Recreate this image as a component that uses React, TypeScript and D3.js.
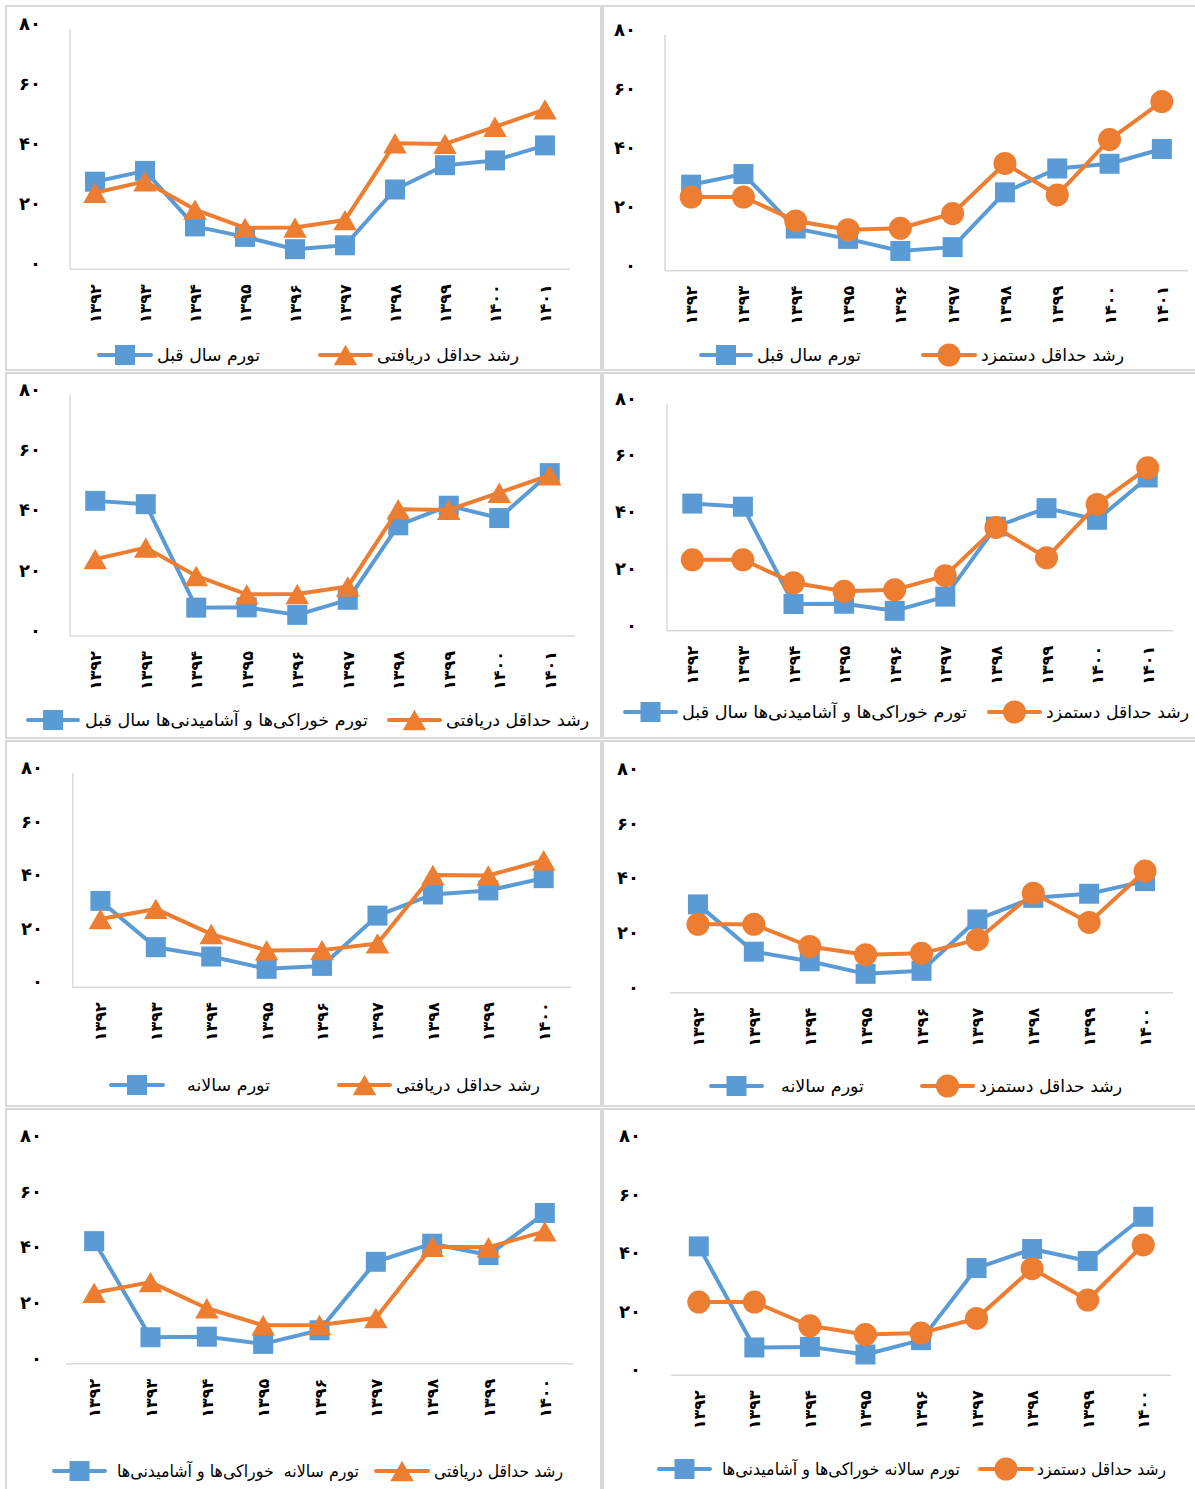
import * as d3 from "d3";

// categories (Persian years) and axis ticks
const years = ["۱۳۹۲", "۱۳۹۳", "۱۳۹۴", "۱۳۹۵", "۱۳۹۶", "۱۳۹۷", "۱۳۹۸", "۱۳۹۹", "۱۴۰۰", "۱۴۰۱"];
const yTicks = [0, 20, 40, 60, 80];
const yTickLabels = ["۰", "۲۰", "۴۰", "۶۰", "۸۰"];

// series values (percent)
const inflationPrevYear = [29.2, 32.8, 14.3, 10.8, 6.7, 8.0, 26.6, 34.7, 36.3, 41.3];
const inflationAnnual = [32.3, 15.0, 11.5, 6.9, 8.0, 26.8, 34.7, 36.2, 40.8];
const foodInflationPrevYear = [44.8, 43.7, 9.4, 9.5, 7.0, 12.0, 36.7, 43.2, 39.1, 54.0];
const foodInflationAnnual = [44.0, 9.5, 9.7, 7.1, 12.0, 36.6, 43.1, 39.0, 54.1];
const totalWageGrowth = [25.5, 29.3, 19.9, 13.8, 13.9, 16.4, 42.0, 41.8, 47.5, 53.3];
const minWageGrowth = [25.0, 25.0, 16.9, 13.9, 14.4, 19.4, 36.4, 25.7, 44.5, 57.4];

// legend names
const nameInflationPrev = "تورم سال قبل";
const nameInflationAnnual = "تورم سالانه";
const nameFoodPrev = "تورم خوراکی‌ها و آشامیدنی‌ها سال قبل";
const nameFoodAnnualA = "تورم سالانه  خوراکی‌ها و آشامیدنی‌ها";
const nameFoodAnnualB = "تورم سالانه خوراکی‌ها و آشامیدنی‌ها";
const nameTotalWage = "رشد حداقل دریافتی";
const nameMinWage = "رشد حداقل دستمزد";

const BLUE = "#5b9bd5";
const ORANGE = "#ed7d31";
const GRID = "#d9d9d9";
const FONT = "DejaVu Sans, sans-serif";

type Panel = {
  box: [number, number, number, number];
  x0: number; x1: number; yZero: number; yTop: number;
  labelRight: number; yAxis: boolean;
  n: number;
  blue: number[]; blueName: string;
  orange: number[]; orangeName: string; orangeMarker: "triangle" | "circle";
  legendY: number;
  lg: [number, number, number, number, number, number, number, number];
};

const panels: Panel[] = [
  { box: [6, 6, 601, 370], x0: 70, x1: 570, yZero: 269.3, yTop: 29.3, labelRight: 41, yAxis: true, n: 10,
    blue: inflationPrevYear, blueName: nameInflationPrev, orange: totalWageGrowth, orangeName: nameTotalWage, orangeMarker: "triangle",
    legendY: 355, lg: [97, 153, 157, 260, 318, 373, 377, 519] },
  { box: [603, 6, 1196, 370], x0: 665, x1: 1188, yZero: 270.7, yTop: 35, labelRight: 636, yAxis: true, n: 10,
    blue: inflationPrevYear, blueName: nameInflationPrev, orange: minWageGrowth, orangeName: nameMinWage, orangeMarker: "circle",
    legendY: 355, lg: [699, 753, 757, 861, 921, 977, 981, 1124] },
  { box: [6, 373, 601, 738], x0: 70, x1: 575, yZero: 636, yTop: 394.7, labelRight: 41, yAxis: true, n: 10,
    blue: foodInflationPrevYear, blueName: nameFoodPrev, orange: totalWageGrowth, orangeName: nameTotalWage, orangeMarker: "triangle",
    legendY: 720, lg: [26, 80, 85, 368, 387, 442, 446, 589] },
  { box: [603, 373, 1196, 738], x0: 667, x1: 1173, yZero: 630.7, yTop: 403.7, labelRight: 637, yAxis: true, n: 10,
    blue: foodInflationPrevYear, blueName: nameFoodPrev, orange: minWageGrowth, orangeName: nameMinWage, orangeMarker: "circle",
    legendY: 712, lg: [623, 678, 682, 967, 987, 1042, 1046, 1189] },
  { box: [6, 741, 601, 1106], x0: 72.7, x1: 571.4, yZero: 987.3, yTop: 773.3, labelRight: 43, yAxis: true, n: 9,
    blue: inflationAnnual, blueName: nameInflationAnnual, orange: totalWageGrowth, orangeName: nameTotalWage, orangeMarker: "triangle",
    legendY: 1085, lg: [109, 165, 187, 270, 337, 392, 396, 540] },
  { box: [603, 741, 1196, 1106], x0: 670, x1: 1173, yZero: 992.7, yTop: 774, labelRight: 639, yAxis: false, n: 9,
    blue: inflationAnnual, blueName: nameInflationAnnual, orange: minWageGrowth, orangeName: nameMinWage, orangeMarker: "circle",
    legendY: 1086, lg: [709, 764, 781, 864, 920, 975, 979, 1122] },
  { box: [6, 1109, 601, 1494], x0: 66, x1: 573, yZero: 1363.7, yTop: 1140.9, labelRight: 42, yAxis: false, n: 9,
    blue: foodInflationAnnual, blueName: nameFoodAnnualA, orange: totalWageGrowth, orangeName: nameTotalWage, orangeMarker: "triangle",
    legendY: 1471, lg: [52, 107, 117, 359, 374, 430, 434, 563] },
  { box: [603, 1109, 1196, 1494], x0: 671, x1: 1171, yZero: 1375.3, yTop: 1140.9, labelRight: 641, yAxis: false, n: 9,
    blue: foodInflationAnnual, blueName: nameFoodAnnualB, orange: minWageGrowth, orangeName: nameMinWage, orangeMarker: "circle",
    legendY: 1469, lg: [657, 712, 722, 960, 978, 1034, 1037, 1166] },
];

const TRI_SIZE = 240;
const triPath = d3.symbol(d3.symbolTriangle, TRI_SIZE)() as string;
const triShift = Math.sqrt(TRI_SIZE / (3 * Math.sqrt(3))) / 2;

function Marker({ kind, x, y, color }: { kind: string; x: number; y: number; color: string }) {
  if (kind === "square") return <rect x={x - 10} y={y - 10} width={20} height={20} fill={color} />;
  if (kind === "circle") return <circle cx={x} cy={y} r={11.5} fill={color} />;
  return <path d={triPath} transform={`translate(${x},${y + triShift})`} fill={color} />;
}

function ChartPanel({ p }: { p: Panel }) {
  const cats = years.slice(0, p.n);
  const x = d3.scaleBand<string>().domain(cats).range([p.x0, p.x1]);
  const y = d3.scaleLinear().domain([0, 80]).range([p.yZero, p.yTop]);
  const cx = (d: string) => (x(d) as number) + x.bandwidth() / 2;
  const line = d3.line<number>().x((_, i) => cx(cats[i])).y((v) => y(v));
  const orange = p.orange.slice(0, p.n);
  const [bl0, bl1, bt0, bt1, ol0, ol1, ot0, ot1] = p.lg;
  const ly = p.legendY;
  const [bx0, by0, bx1, by1] = p.box;
  return (
    <g>
      <rect x={bx0} y={by0} width={bx1 - bx0} height={by1 - by0} fill="#fff" stroke={GRID} strokeWidth={2} />
      {p.yAxis && <line x1={p.x0} x2={p.x0} y1={p.yZero} y2={p.yTop} stroke={GRID} strokeWidth={1.5} />}
      <line x1={p.x0} x2={p.x1} y1={p.yZero} y2={p.yZero} stroke={GRID} strokeWidth={1.5} />
      {yTicks.map((t, i) => (
        <text key={t} x={p.labelRight} y={y(t) + 1} textAnchor="end" fontFamily={FONT} fontWeight="bold" fontSize={18} fill="#000">
          {yTickLabels[i]}
        </text>
      ))}
      {cats.map((c) => (
        <text key={c} transform={`translate(${cx(c) + 6},${p.yZero + 15}) rotate(-90)`} textAnchor="end"
          fontFamily={FONT} fontWeight="bold" fontSize={16} fill="#000">
          {c}
        </text>
      ))}
      <path d={line(p.blue) as string} fill="none" stroke={BLUE} strokeWidth={4} strokeLinejoin="round" />
      {p.blue.map((v, i) => <Marker key={i} kind="square" x={cx(cats[i])} y={y(v)} color={BLUE} />)}
      <path d={line(orange) as string} fill="none" stroke={ORANGE} strokeWidth={4} strokeLinejoin="round" />
      {orange.map((v, i) => <Marker key={i} kind={p.orangeMarker} x={cx(cats[i])} y={y(v)} color={ORANGE} />)}

      <line x1={bl0 + 2} x2={bl1 - 2} y1={ly} y2={ly} stroke={BLUE} strokeWidth={4} strokeLinecap="round" />
      <Marker kind="square" x={(bl0 + bl1) / 2} y={ly} color={BLUE} />
      <text x={bt1} y={ly + 6} textAnchor="end" fontFamily={FONT} fontSize={17} fill="#000"
        textLength={bt1 - bt0} lengthAdjust="spacingAndGlyphs" style={{ whiteSpace: "pre" }}>
        {p.blueName}
      </text>
      <line x1={ol0 + 2} x2={ol1 - 2} y1={ly} y2={ly} stroke={ORANGE} strokeWidth={4} strokeLinecap="round" />
      <Marker kind={p.orangeMarker} x={(ol0 + ol1) / 2} y={ly} color={ORANGE} />
      <text x={ot1} y={ly + 6} textAnchor="end" fontFamily={FONT} fontSize={17} fill="#000"
        textLength={ot1 - ot0} lengthAdjust="spacingAndGlyphs">
        {p.orangeName}
      </text>
    </g>
  );
}

export default function App() {
  return (
    <svg width={1195} height={1489} viewBox="0 0 1195 1489"
      style={{ position: "absolute", left: 0, top: 0, background: "#fff" }}>
      <rect width={1195} height={1489} fill="#fff" />
      {panels.map((p, i) => <ChartPanel key={i} p={p} />)}
    </svg>
  );
}
